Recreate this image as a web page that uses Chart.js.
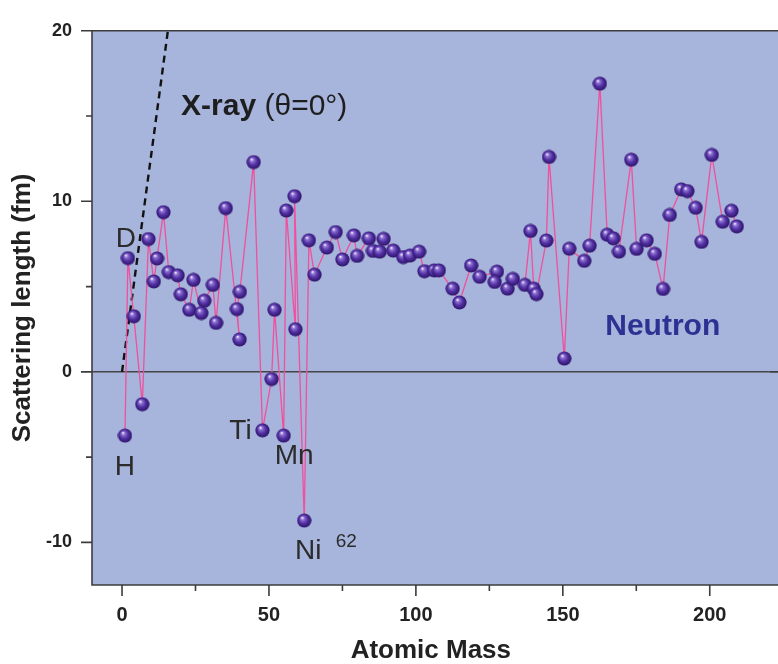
<!DOCTYPE html>
<html>
<head>
<meta charset="utf-8">
<script src="https://cdn.jsdelivr.net/npm/chart.js@4.4.1/dist/chart.umd.min.js"></script>
<style>
  body { margin: 0; background: #fff; }
  canvas { display: block; }
</style>
</head>
<body>
<canvas id="chart" width="778" height="664"></canvas>
<script>
// atomic mass vs coherent neutron scattering length (fm), in the order plotted
const masses = [1.0, 2.0, 4.0, 6.9, 9.0, 10.8, 11.9, 14.1, 15.9, 18.9, 20.0, 22.9, 24.3, 27.0, 28.0, 30.9, 32.0,
  35.3, 40.0, 39.1, 40.1, 44.8, 47.8, 50.9, 51.9, 55.0, 55.9, 59.0, 58.7, 62.0, 63.6, 65.5, 69.7, 72.7,
  75.0, 78.9, 80.0, 84.0, 85.4, 87.7, 89.0, 92.3, 95.7, 98.0, 101.1, 102.9, 106.2, 107.8, 112.5, 114.8,
  118.8, 121.7, 127.6, 126.8, 131.2, 133.0, 137.1, 139.0, 140.1, 141.0, 144.4, 145.3, 150.5, 152.2,
  157.3, 159.1, 162.6, 165.1, 167.2, 169.1, 173.3, 175.1, 178.5, 181.3, 184.1, 186.4, 190.3, 192.4,
  195.2, 197.2, 200.7, 204.4, 207.4, 209.2];
const scatLengths = [-3.74, 6.67, 3.26, -1.9, 7.79, 5.3, 6.65, 9.36, 5.85, 5.66, 4.55, 3.64, 5.39, 3.45, 4.17, 5.1, 2.87,
  9.6, 1.9, 3.68, 4.69, 12.3, -3.43, -0.42, 3.64, -3.74, 9.46, 2.5, 10.3, -8.72, 7.71, 5.7, 7.29, 8.2,
  6.59, 8.0, 6.8, 7.83, 7.09, 7.05, 7.8, 7.11, 6.73, 6.82, 7.05, 5.9, 5.95, 5.95, 4.88, 4.07,
  6.24, 5.57, 5.88, 5.27, 4.88, 5.45, 5.1, 8.26, 4.88, 4.56, 7.7, 12.6, 0.78, 7.22,
  6.51, 7.4, 16.9, 8.04, 7.83, 7.05, 12.44, 7.21, 7.71, 6.92, 4.86, 9.2, 10.7, 10.6,
  9.62, 7.62, 12.72, 8.8, 9.45, 8.53];

// x-ray line at theta = 0 (grows with atomic mass)
const xrayMass = [0, 15.6];
const xrayLength = [0, 20];

const xTicks = [0, 50, 100, 150, 200];
const xMinorTicks = [25, 75, 125, 175];
const yTicks = [-10, 0, 10, 20];
const yMinorTicks = [-5, 5, 15];

const FONT = '"Liberation Sans", Arial, sans-serif';
Chart.defaults.font.family = FONT;

function makeBall(d) {
  const c = document.createElement('canvas');
  c.width = d; c.height = d;
  const g = c.getContext('2d');
  const r = d / 2;
  const grad = g.createRadialGradient(r * 0.72, r * 0.62, r * 0.04, r, r, r);
  grad.addColorStop(0, '#f6f2ff');
  grad.addColorStop(0.2, '#9074d4');
  grad.addColorStop(0.55, '#5331a3');
  grad.addColorStop(1, '#281062');
  g.fillStyle = grad;
  g.beginPath();
  g.arc(r, r, r - 0.4, 0, Math.PI * 2);
  g.fill();
  return c;
}
const ball = makeBall(15);

const neutronPts = masses.map((m, i) => ({x: m, y: scatLengths[i]}));
const xrayPts = xrayMass.map((m, i) => ({x: m, y: xrayLength[i]}));

const frame = {
  id: 'frame',
  beforeDraw(chart) {
    const {ctx, chartArea: a} = chart;
    ctx.save();
    ctx.fillStyle = '#a7b4dc';
    // the panel runs on to the right edge of the picture
    ctx.fillRect(a.left, a.top, chart.width - a.left, a.bottom - a.top);
    ctx.restore();
  },
  afterDatasetsDraw(chart) {
    const {ctx, chartArea: a, scales: {x, y}} = chart;
    const right = chart.width;
    ctx.save();
    ctx.strokeStyle = '#3c3c3c';
    ctx.lineWidth = 1.6;
    ctx.beginPath();
    ctx.moveTo(a.left, a.top); ctx.lineTo(right, a.top);
    ctx.moveTo(a.left, a.top); ctx.lineTo(a.left, a.bottom);
    ctx.lineTo(right, a.bottom);
    ctx.moveTo(a.right, y.getPixelForValue(0)); ctx.lineTo(right, y.getPixelForValue(0));
    // ticks outside
    yTicks.forEach(v => { const p = y.getPixelForValue(v); ctx.moveTo(a.left, p); ctx.lineTo(a.left - 11, p); });
    yMinorTicks.forEach(v => { const p = y.getPixelForValue(v); ctx.moveTo(a.left, p); ctx.lineTo(a.left - 6, p); });
    xTicks.forEach(v => { const p = x.getPixelForValue(v); ctx.moveTo(p, a.bottom); ctx.lineTo(p, a.bottom + 11); });
    xMinorTicks.forEach(v => { const p = x.getPixelForValue(v); ctx.moveTo(p, a.bottom); ctx.lineTo(p, a.bottom + 6); });
    ctx.stroke();

    // annotations
    const put = (txt, mx, my, font, color, align) => {
      ctx.font = font;
      ctx.fillStyle = color;
      ctx.textAlign = align || 'center';
      ctx.textBaseline = 'middle';
      ctx.fillText(txt, x.getPixelForValue(mx), y.getPixelForValue(my));
    };
    const lbl = '28px ' + FONT;
    put('D', 1.3, 7.8, lbl, '#2b2b2b');
    put('H', 1.0, -5.6, lbl, '#2b2b2b');
    put('Ti', 40.3, -3.5, lbl, '#2b2b2b');
    put('Mn', 58.6, -4.95, lbl, '#2b2b2b');
    put('Ni', 63.4, -10.5, lbl, '#2b2b2b');
    put('62', 76.3, -9.95, '19px ' + FONT, '#2b2b2b');

    put('X-ray', 20.1, 15.56, 'bold 30px ' + FONT, '#1e1e1e', 'left');
    ctx.font = 'bold 30px ' + FONT;
    const w = ctx.measureText('X-ray ').width;
    ctx.font = '30px ' + FONT;
    ctx.textAlign = 'left';
    ctx.fillText('(θ=0°)', x.getPixelForValue(20.1) + w, y.getPixelForValue(15.56));

    put('Neutron', 184, 2.67, 'bold 30px ' + FONT, '#2e3192');
    ctx.restore();
  }
};

new Chart(document.getElementById('chart'), {
  type: 'line',
  data: {
    datasets: [
      {
        data: neutronPts,
        borderColor: '#f0509c',
        borderWidth: 1.3,
        pointStyle: ball,
        pointRadius: 7,
        tension: 0,
        order: 0
      },
      {
        data: xrayPts,
        borderColor: '#111',
        borderWidth: 2.4,
        borderDash: [7, 5],
        pointRadius: 0,
        order: 1
      }
    ]
  },
  options: {
    responsive: false,
    animation: false,
    devicePixelRatio: 1,
    events: [],
    layout: { padding: { top: 26, right: 0, left: 0, bottom: 0 } },
    plugins: { legend: { display: false }, tooltip: { enabled: false } },
    scales: {
      x: {
        type: 'linear',
        min: -10.22,
        max: 220.4,
        afterFit: s => { s.height = 79; s.paddingLeft = 0; s.paddingRight = 0; },
        grid: { display: false, drawTicks: false },
        border: { display: false },
        ticks: {
          stepSize: 50,
          includeBounds: false,
          autoSkip: false,
          maxRotation: 0,
          padding: 18,
          color: '#222',
          font: { size: 20, weight: 'bold' },
          callback: v => xTicks.includes(v) ? String(v) : ''
        },
        title: {
          display: true,
          text: 'Atomic Mass',
          color: '#222',
          font: { size: 26, weight: 'bold', lineHeight: 1 },
          padding: { top: 0, bottom: 0 }
        }
      },
      y: {
        min: -12.5,
        max: 20,
        afterFit: s => { s.width = 92; },
        grid: {
          drawTicks: false,
          lineWidth: 1.6,
          color: c => c.tick && c.tick.value === 0 ? '#444' : 'rgba(0,0,0,0)'
        },
        border: { display: false },
        ticks: {
          stepSize: 10,
          includeBounds: false,
          padding: 20,
          color: '#222',
          font: { size: 18, weight: 'bold' },
          callback: v => yTicks.includes(v) ? String(v) : ''
        },
        title: {
          display: true,
          text: 'Scattering length (fm)',
          color: '#222',
          font: { size: 26, weight: 'bold', lineHeight: 1 },
          padding: { top: 10, bottom: 0 }
        }
      }
    }
  },
  plugins: [frame]
});
</script>
</body>
</html>
